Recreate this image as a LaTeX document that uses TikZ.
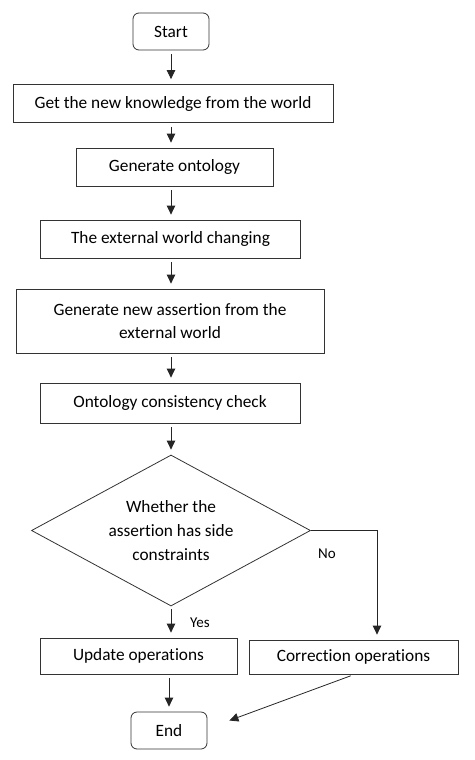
\documentclass[tikz,border=0pt]{standalone}
\usepackage{fontspec}
\setmainfont{Carlito}[Ligatures=NoCommon]
\usepackage{tikz}
\usetikzlibrary{arrows.meta, shapes.geometric}

\begin{document}
\begin{tikzpicture}[x=1pt, y=-1pt,
        procbox/.style={draw=black!80, line width=0.8pt, inner sep=0pt, align=center, minimum height=38pt},
        termbox/.style={procbox, rounded corners=6pt, minimum width=76pt, minimum height=37pt},
        decbox/.style={draw=black!80, line width=0.8pt, diamond, aspect=1.85, inner sep=0pt, minimum width=279pt, minimum height=151pt, align=center},
        flow/.style={-{Triangle[length=9pt, width=8.5pt]}, line width=0.8pt, black!85, shorten <=4pt, shorten >=5pt},
        lbl/.style={font=\fontsize{15}{18}\selectfont},
        every node/.style={font=\fontsize{17.3}{24}\selectfont}]
    \useasboundingbox (0,0) rectangle (474,760);

    \node[termbox] (start) at (171,31.5) {Start};
    \node[procbox, minimum width=320pt] (getknow) at (173,103.5) {Get the new knowledge from the world};
    \node[procbox, minimum width=197pt] (genonto) at (174.5,167) {Generate ontology};
    \node[procbox, minimum width=260pt] (extchg) at (170.5,239) {The external world changing};
    \node[procbox, minimum width=308pt, minimum height=64pt] (genassert) at (170,321) {Generate new assertion from the\\[-1pt]external world};
    \node[procbox, minimum width=260pt, minimum height=40pt] (conscheck) at (170,403) {Ontology consistency check};
    \node[decbox] (side) at (171,530.5) {Whether the\\assertion has side\\constraints};
    \node[procbox, minimum width=197pt, minimum height=36pt] (update) at (138.5,656) {Update operations};
    \node[procbox, minimum width=209pt, minimum height=34pt] (correct) at (353.5,657) {Correction operations};
    \node[termbox] (end) at (169,730.5) {End};
    \node[lbl] (nolbl) at ([xshift=16pt, yshift=-23pt]side.east) {No};
    \node[lbl] (yeslbl) at ([xshift=29pt, yshift=-16pt]side.south) {Yes};

    % main column of the chart
    \draw[flow] (start.south) -- (start.south |- getknow.north);
    \draw[flow] (getknow.south -| start) -- (start |- genonto.north);
    \draw[flow] (genonto.south -| start) -- (start |- extchg.north);
    \draw[flow] (extchg.south -| start) -- (start |- genassert.north);
    \draw[flow] (genassert.south -| start) -- (start |- conscheck.north);
    \draw[flow] (conscheck.south -| side) -- (side.north);
    \draw[flow, shorten <=0pt] (side.east) -| ([xshift=23.5pt]correct.north);
    \draw[flow, shorten <=3pt] (side.south) -- (side.south |- update.north);
    \draw[flow] (update.south -| end) -- (end.north);
    \draw[flow, shorten >=0pt] ([xshift=1pt]correct.south) -- ([xshift=22pt, yshift=10pt]end.east);
\end{tikzpicture}
\end{document}
